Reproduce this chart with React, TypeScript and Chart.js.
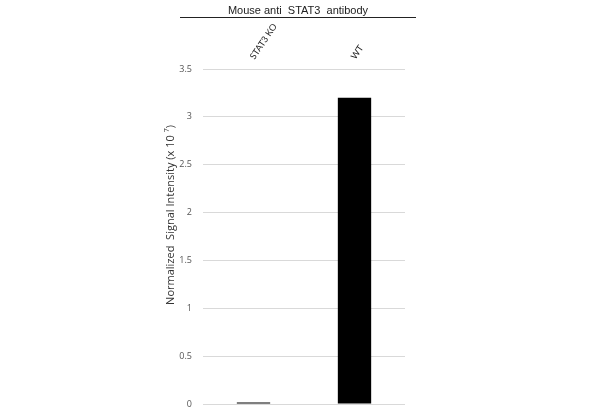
import { useEffect, useRef } from "react"
import { Chart, registerables, Plugin } from "chart.js"

Chart.register(...registerables)

const categories = ["STAT3 KO", "WT"]
const signalValues = [0.015, 3.2]
const yTicks = [0, 0.5, 1, 1.5, 2, 2.5, 3, 3.5]
const chartTitle = "Mouse anti  STAT3  antibody"
const yTitleMain = "Normalized  Signal Intensity (x 10"
const yTitleSup = "7"
const yTitleEnd = ")"

// draws the underlined title, the slanted category labels and the y axis title
const decorPlugin: Plugin<"bar"> = {
  id: "decor",
  afterDraw(chart) {
    const ctx = chart.ctx
    ctx.save()
    ctx.fillStyle = "#222"
    ctx.font = "11px 'Liberation Sans', Arial, sans-serif"
    ctx.textAlign = "center"
    ctx.textBaseline = "alphabetic"
    ctx.fillText(chartTitle, 298, 14)
    ctx.strokeStyle = "#222"
    ctx.lineWidth = 1
    ctx.beginPath()
    ctx.moveTo(180, 17.5)
    ctx.lineTo(416, 17.5)
    ctx.stroke()

    // category labels above the plot
    const xScale = chart.scales.x
    ctx.font = "9px Lato, sans-serif"
    ctx.fillStyle = "#222"
    ctx.textAlign = "left"
    categories.forEach((label, i) => {
      const px = xScale.getPixelForValue(i)
      ctx.save()
      ctx.translate(px + 1, 60)
      ctx.rotate((-56 * Math.PI) / 180)
      ctx.fillText(label, 0, 0)
      ctx.restore()
    })

    // rotated y title
    ctx.translate(174, 215)
    ctx.rotate(-Math.PI / 2)
    const mainFont = "11px 'Open Sans', sans-serif"
    const supFont = "7px 'Open Sans', sans-serif"
    ctx.font = mainFont
    const w1 = ctx.measureText(yTitleMain + " ").width
    const w3 = ctx.measureText(yTitleEnd).width
    ctx.font = supFont
    const w2 = ctx.measureText(yTitleSup).width
    const total = w1 + w2 + w3
    let x = -total / 2
    ctx.textAlign = "left"
    ctx.fillStyle = "#333"
    ctx.font = mainFont
    ctx.fillText(yTitleMain + " ", x, 0)
    x += w1
    ctx.font = supFont
    ctx.fillText(yTitleSup, x, -5)
    x += w2
    ctx.font = mainFont
    ctx.fillText(yTitleEnd, x, 0)
    ctx.restore()
  },
}

export default function App() {
  const chartRef = useRef<HTMLCanvasElement>(null)
  const chartInstance = useRef<Chart<"bar"> | null>(null)

  useEffect(() => {
    if (!chartRef.current) return
    if (chartInstance.current) chartInstance.current.destroy()
    const ctx = chartRef.current.getContext("2d")
    if (!ctx) return

    chartInstance.current = new Chart(ctx, {
      type: "bar",
      data: {
        labels: categories,
        datasets: [
          {
            label: "Signal",
            data: signalValues,
            backgroundColor: "#000",
            borderColor: "#000",
            borderWidth: 0,
            categoryPercentage: 1,
            barPercentage: 0.33,
          },
        ],
      },
      options: {
        animation: false,
        responsive: false,
        layout: { padding: { left: 0, right: 195, top: 0, bottom: 9 } },
        plugins: {
          legend: { display: false },
          tooltip: { enabled: false },
        },
        scales: {
          x: {
            position: "top",
            grid: { display: false },
            border: { display: false },
            afterFit: (scale) => {
              scale.height = 69
            },
            ticks: { display: false },
          },
          y: {
            min: 0,
            max: 3.5,
            afterFit: (scale) => {
              scale.width = 203
              scale.paddingTop = 0
              scale.paddingBottom = 0
            },
            afterBuildTicks: (scale) => {
              scale.ticks = yTicks.map((v) => ({ value: v }))
            },
            grid: { color: "#d9d9d9", drawTicks: false },
            border: { display: false },
            ticks: {
              color: "#555",
              padding: 11,
              font: { family: "'Open Sans', sans-serif", size: 9 },
              callback: (v) => String(v),
            },
          },
        },
      },
      plugins: [decorPlugin],
    })

    return () => {
      if (chartInstance.current) chartInstance.current.destroy()
    }
  }, [])

  return (
    <div style={{ position: "fixed", left: 0, top: 0, width: 600, height: 413, background: "#fff" }}>
      <canvas ref={chartRef} width={600} height={413} style={{ display: "block" }} />
    </div>
  )
}
